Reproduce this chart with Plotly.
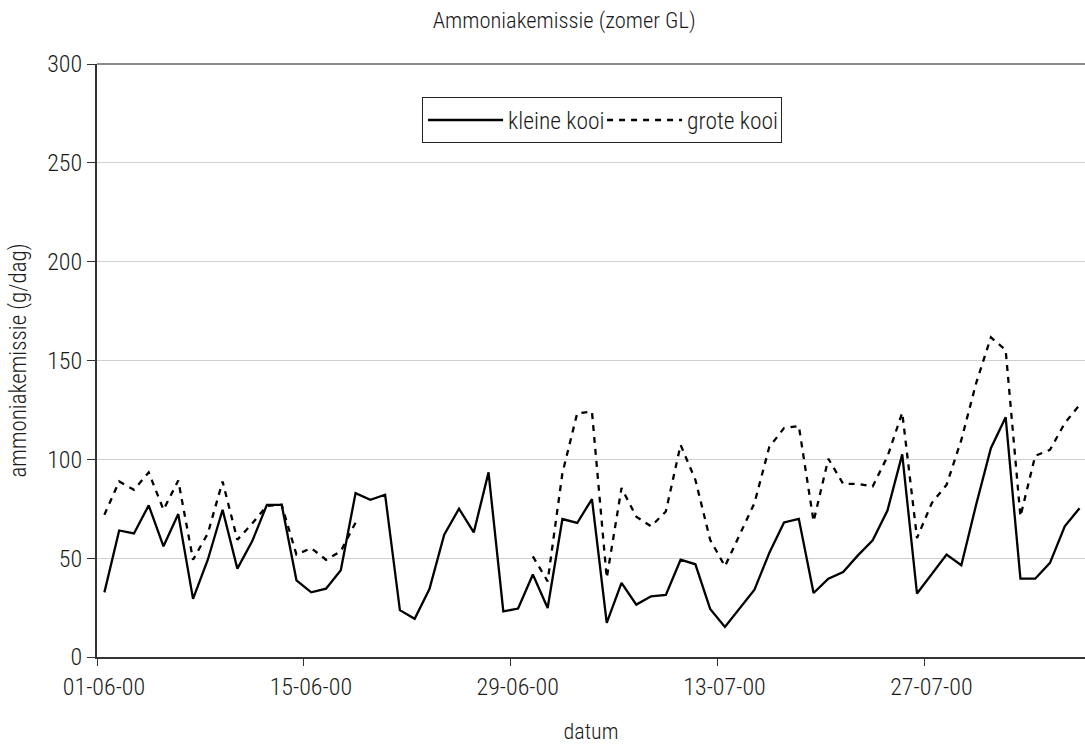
import pandas as pd
import plotly.graph_objects as go

# ---- data ----
start_date = "2000-06-01"
n_days = 67
dates = pd.date_range(start_date, periods=n_days, freq="D")

kleine_kooi = [
    32.7, 64.0, 62.5, 76.7, 56.0, 72.3, 29.4, 49.2, 74.5, 44.7,
    58.5, 77.0, 77.0, 38.8, 32.7, 34.6, 43.9, 82.9, 79.5, 82.1,
    23.7, 19.3, 34.4, 61.9, 75.0, 63.0, 93.4, 23.1, 24.5, 41.7,
    24.8, 69.8, 67.8, 79.9, 17.3, 37.5, 26.5, 30.7, 31.4, 49.2,
    46.9, 24.3, 15.2, 24.8, 34.1, 52.6, 68.1, 69.9, 32.4, 39.6,
    43.0, 51.4, 59.0, 74.1, 102.5, 32.1, 42.2, 51.8, 46.4, 77.0,
    105.6, 121.3, 39.6, 39.6, 47.6, 66.1, 75.3,
]

grote_kooi = [
    72.0, 88.8, 84.6, 93.4, 74.5, 89.3, 49.2, 62.5, 88.8, 59.3,
    67.5, 76.5, 77.0, 51.8, 55.1, 49.2, 53.5, 68.0,
    None, None, None, None, None, None, None, None, None, None, None,
    50.9, 38.3, 93.0, 123.3, 124.1, 40.0, 85.5, 71.0, 66.1, 73.6,
    107.3, 89.6, 59.3, 45.9, 61.9, 77.9, 106.2, 115.8, 116.9, 68.6,
    100.3, 87.6, 87.6, 86.3, 101.4, 123.6, 60.2, 77.9, 87.1, 109.8,
    138.5, 161.7, 155.3, 71.1, 101.8, 104.8, 118.3, 127.5,
]

tick_dates = ["2000-06-01", "2000-06-15", "2000-06-29", "2000-07-13", "2000-07-27"]
tick_labels = ["01-06-00", "15-06-00", "29-06-00", "13-07-00", "27-07-00"]
y_ticks = [0, 50, 100, 150, 200, 250, 300]

# ---- figure ----
FONT = "Roboto Condensed, Liberation Sans Narrow, Arial Narrow, Roboto, sans-serif"
TXT = "#1a1a1a"
x_pos = dates + pd.Timedelta(hours=12)  # Excel date axis centers points within each day

fig = go.Figure()
fig.add_trace(go.Scatter(
    x=x_pos, y=kleine_kooi, name="kleine kooi", mode="lines",
    line=dict(color="black", width=2.3),
))
fig.add_trace(go.Scatter(
    x=x_pos, y=grote_kooi, name="grote kooi", mode="lines",
    line=dict(color="black", width=2.3, dash="6px,6px"),
    connectgaps=False,
))

x_end = pd.Timestamp(start_date) + pd.Timedelta(days=66.87)

fig.update_layout(
    width=1085, height=744,
    margin=dict(l=97, r=0, t=64, b=87),
    paper_bgcolor="white", plot_bgcolor="white",
    font=dict(family=FONT, size=24, color=TXT, weight=300),
    title=dict(text="Ammoniakemissie (zomer GL)", x=0.52, xanchor="center",
               y=0.983, yanchor="top",
               font=dict(family=FONT, size=22.5, color=TXT, weight=300)),
    showlegend=True,
    legend=dict(
        orientation="h", x=0.329, xanchor="left", y=0.944, yanchor="top",
        bordercolor="#222", borderwidth=1, bgcolor="white",
        font=dict(family=FONT, size=23.5, color=TXT, weight=300),
        itemwidth=75, entrywidth=89, tracegroupgap=0,
    ),
    xaxis=dict(
        range=[pd.Timestamp(start_date), x_end],
        tickmode="array", tickvals=tick_dates, ticktext=tick_labels,
        ticks="outside", ticklen=7, tickwidth=1, tickcolor="#333",
        ticklabelshift=7,
        showline=True, linecolor="#333", linewidth=2,
        showgrid=False, zeroline=False,
        title=dict(text="datum", standoff=24,
                   font=dict(family=FONT, size=22, weight=300)),
    ),
    yaxis=dict(
        range=[0, 300], tickmode="array", tickvals=y_ticks,
        ticks="outside", ticklen=8, tickwidth=1, tickcolor="#333",
        showline=True, linecolor="#333", linewidth=2,
        showgrid=True, gridcolor="#cfcfcf", gridwidth=1,
        zeroline=False,
        title=dict(text="ammoniakemissie (g/dag)", standoff=14,
                   font=dict(family=FONT, size=23, weight=300)),
    ),
    shapes=[dict(type="line", xref="paper", yref="paper", x0=0, x1=1, y0=1, y1=1,
                 line=dict(color="#8c8c8c", width=2))],
)

fig.write_html("out.html")
